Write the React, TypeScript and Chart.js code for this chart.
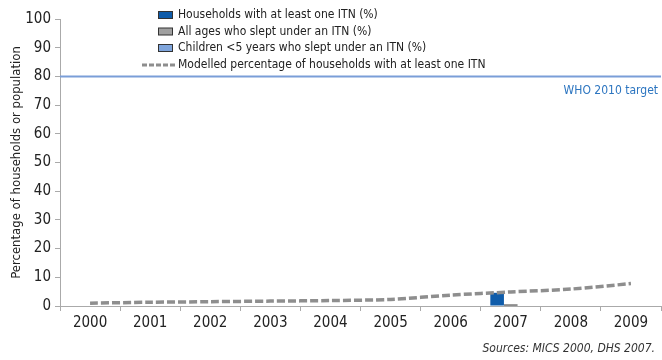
import React, { useEffect, useRef } from "react";
import { Chart, registerables } from "chart.js";

Chart.register(...registerables);

const years = ["2000", "2001", "2002", "2003", "2004", "2005", "2006", "2007", "2008", "2009"];
const householdsITN = [null, null, null, null, null, null, null, 4.6, null, null];
const allAgesITN = [null, null, null, null, null, null, null, 0.5, null, null];
const childrenITN = [null, null, null, null, null, null, null, null, null, null];
const modelledHouseholds = [1.0, 1.3, 1.5, 1.7, 1.9, 2.3, 3.8, 4.9, 5.9, 7.8];
const whoTarget = 80;
const yTicks = [0, 10, 20, 30, 40, 50, 60, 70, 80, 90, 100];

const FONT = "'Liberation Sans Narrow', 'DejaVu Sans Condensed', 'Roboto', sans-serif";

const labels = [
  "Households with at least one ITN (%)",
  "All ages who slept under an ITN (%)",
  "Children <5 years who slept under an ITN (%)",
  "Modelled percentage of households with at least one ITN",
];
const colors = ["#0f5caa", "#a0a0a0", "#7fa5dc", "#8e8e8e"];

const overlayPlugin = {
  id: "overlay",
  beforeDatasetsDraw(chart: any) {
    const { ctx, chartArea, scales } = chart;
    const y = scales.y.getPixelForValue(whoTarget);
    ctx.save();
    ctx.strokeStyle = "#7a9ed8";
    ctx.lineWidth = 2;
    ctx.beginPath();
    ctx.moveTo(chartArea.left, y);
    ctx.lineTo(chartArea.right, y);
    ctx.stroke();
    ctx.fillStyle = "#2c75c0";
    ctx.font = `12px ${FONT}`;
    ctx.textAlign = "right";
    ctx.textBaseline = "middle";
    ctx.fillText("WHO 2010 target", chartArea.right - 3, y + 14);
    ctx.restore();
  },
  afterDraw(chart: any) {
    const { ctx } = chart;
    ctx.save();
    ctx.font = `12px ${FONT}`;
    ctx.textBaseline = "middle";
    ctx.textAlign = "left";
    const textX = 178;
    const ys = [15, 31.5, 48, 65];
    for (let i = 0; i < 4; i++) {
      const yy = ys[i];
      if (i < 3) {
        ctx.fillStyle = colors[i];
        ctx.fillRect(158.5, yy - 3.5, 14, 7);
        ctx.strokeStyle = "#333";
        ctx.lineWidth = 1;
        ctx.strokeRect(158.5, yy - 3.5, 14, 7);
      } else {
        ctx.strokeStyle = colors[3];
        ctx.lineWidth = 3;
        ctx.setLineDash([5, 2]);
        ctx.beginPath();
        ctx.moveTo(142, yy);
        ctx.lineTo(177, yy);
        ctx.stroke();
        ctx.setLineDash([]);
      }
      ctx.fillStyle = "#222";
      ctx.fillText(labels[i], textX, yy);
    }
    ctx.font = `italic 12px ${FONT}`;
    ctx.textAlign = "right";
    ctx.fillStyle = "#333";
    ctx.fillText("Sources: MICS 2000, DHS 2007.", 655, 349);
    ctx.restore();
  },
};

export default function App() {
  const ref = useRef<HTMLCanvasElement>(null);
  useEffect(() => {
    if (!ref.current) return;
    const chart = new Chart(ref.current, {
      type: "bar",
      data: {
        labels: years,
        datasets: [
          {
            type: "line",
            label: labels[3],
            data: modelledHouseholds,
            borderColor: colors[3],
            borderWidth: 3.5,
            borderDash: [8, 3],
            pointRadius: 0,
            tension: 0.3,
            order: 0,
          } as any,
          {
            label: labels[0],
            data: householdsITN,
            backgroundColor: colors[0],
            order: 1,
          },
          {
            label: labels[1],
            data: allAgesITN,
            backgroundColor: "#1a1a1a",
            order: 1,
          },
          {
            label: labels[2],
            data: childrenITN,
            backgroundColor: colors[2],
            order: 1,
          },
        ],
      },
      options: {
        animation: false,
        responsive: false,
        maintainAspectRatio: false,
        datasets: { bar: { categoryPercentage: 0.68, barPercentage: 1.0 } } as any,
        layout: { padding: { top: 19, right: 1, bottom: 22, left: 0 } },
        plugins: { legend: { display: false }, tooltip: { enabled: false } },
        scales: {
          x: {
            offset: true,
            grid: { offset: true, drawOnChartArea: false, tickLength: 5, color: "#aaa" },
            border: { color: "#aaa", width: 1 },
            ticks: { color: "#222", font: { family: FONT, size: 15 }, padding: 3 },
            afterFit: (s: any) => { s.height = 32; },
          },
          y: {
            min: 0,
            max: 100,
            afterBuildTicks: (s: any) => { s.ticks = yTicks.map((v) => ({ value: v })); },
            grid: { drawOnChartArea: false, tickLength: 5, color: "#aaa" },
            border: { color: "#aaa", width: 1 },
            ticks: { color: "#222", font: { family: FONT, size: 15 }, padding: 4 },
            title: {
              display: true,
              text: "Percentage of households or population",
              color: "#222",
              font: { family: FONT, size: 13 },
              padding: { top: 9, bottom: 0 },
            },
            afterFit: (s: any) => { s.width = 60; },
          },
        },
      },
      plugins: [overlayPlugin],
    });
    return () => chart.destroy();
  }, []);
  return (
    <div style={{ position: "absolute", left: 0, top: 0, width: 662, height: 360, background: "#fff" }}>
      <canvas ref={ref} width={662} height={360} style={{ display: "block" }} />
    </div>
  );
}
